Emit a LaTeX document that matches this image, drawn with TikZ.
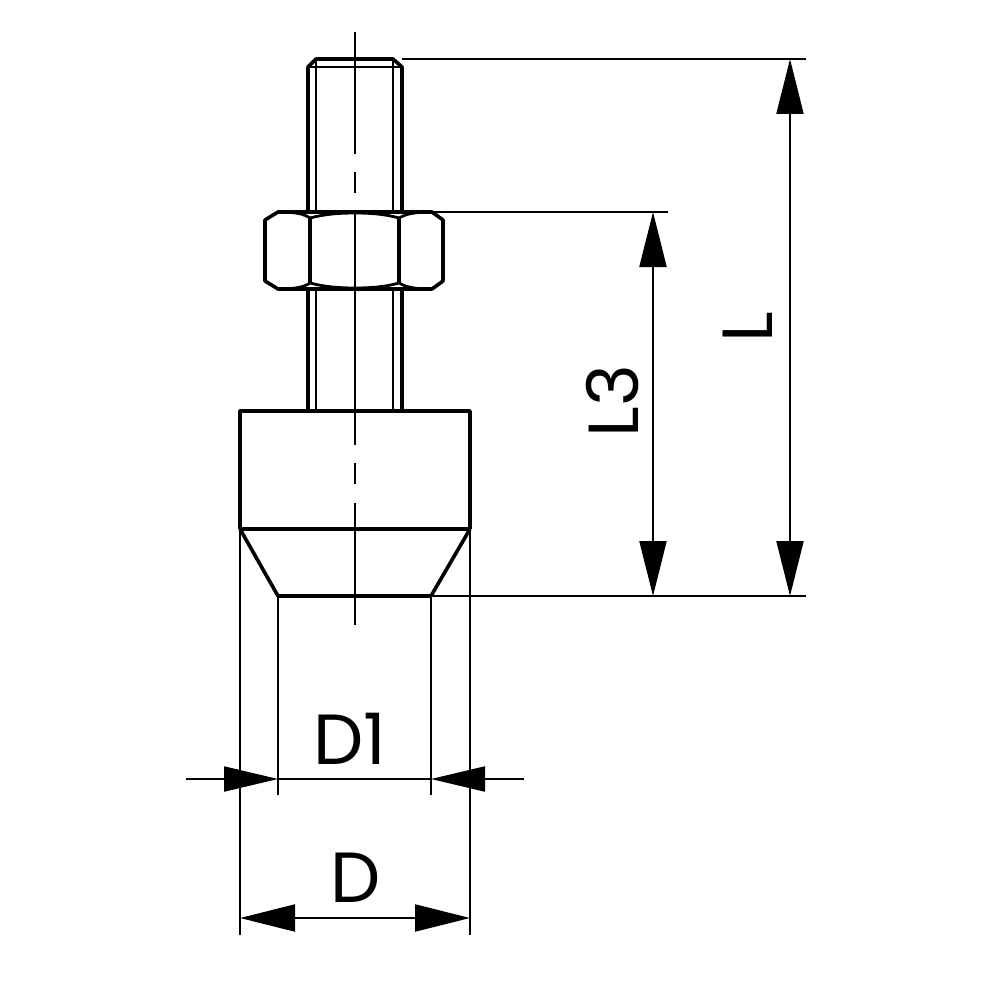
\documentclass[tikz,border=0pt]{standalone}
\usepackage{fontspec}
\setmainfont{Poppins}
\usetikzlibrary{arrows.meta}
\tikzset{
  part/.style={line width=3.6pt,line join=round,black},
  thread/.style={line width=2.8pt,black},
  thin line/.style={line width=2.1pt,black},
  centre/.style={line width=2.2pt,black},
  dimtwo/.style={thin line,{Triangle[length=55pt,width=27pt]}-{Triangle[length=55pt,width=27pt]}},
  tipin/.style={thin line,-{Triangle[length=54pt,width=25pt]}},
  label/.style={font=\fontsize{71}{71}\selectfont,inner sep=0pt,text=black}
}
\begin{document}
\begin{tikzpicture}[x=1pt,y=-1pt]
\useasboundingbox (0,0) rectangle (1000,1000);
\fill[white] (0,0) rectangle (1000,1000);
% extension lines
\draw[thin line] (402,59) -- (806,59);
\draw[thin line] (432,212) -- (668,212);
\draw[thin line] (431,596) -- (806,596);
\draw[thin line] (240,529) -- (240,935);
\draw[thin line] (470,529) -- (470,935);
\draw[thin line] (278,596) -- (278,795);
\draw[thin line] (431,596) -- (431,795);
% shaft
\draw[part] (308,212) -- (308,67) -- (316,59) -- (393,59) -- (402,67) -- (402,212);
\draw[thread] (308,67) -- (402,67);
\draw[thread] (316,59) -- (316,212);
\draw[thread] (393,59) -- (393,212);
\draw[part] (308,289) -- (308,411);
\draw[part] (402,289) -- (402,411);
\draw[thread] (316,289) -- (316,411);
\draw[thread] (393,289) -- (393,411);
% nut
\draw[part] (278,212) -- (432,212) -- (443,220) -- (443,281) -- (432,289) -- (278,289) -- (265,281) -- (265,220) -- cycle;
\draw[part] (310,218) -- (310,283);
\draw[part] (399,218) -- (399,283);
\draw[thread] (278,212) .. controls (296,212) and (304,214) .. (310,218) .. controls (325,214) and (340,213) .. (355,213) .. controls (370,213) and (385,214) .. (399,218) .. controls (406,214) and (414,212) .. (432,212);
\draw[thread] (278,289) .. controls (296,289) and (304,287) .. (310,283) .. controls (325,287) and (340,288) .. (355,288) .. controls (370,288) and (385,287) .. (399,283) .. controls (406,287) and (414,289) .. (432,289);
% body
\draw[part] (240,529) -- (240,411) -- (470,411) -- (470,529);
\draw[part] (240,529) -- (470,529);
\draw[part] (240,529) -- (278,596) -- (431,596) -- (470,529);
% centre line
\draw[centre] (355,32) -- (355,154);
\draw[centre] (355,172) -- (355,193);
\draw[centre] (355,212) -- (355,445);
\draw[centre] (355,463) -- (355,484);
\draw[centre] (355,503) -- (355,625);
% dimensions
\draw[dimtwo] (790,59) -- (790,596);
\draw[dimtwo] (653,212) -- (653,596);
\draw[dimtwo] (240,918) -- (470,918);
\draw[tipin] (186,779) -- (278,779);
\draw[tipin] (524,779) -- (431,779);
\draw[thin line] (278,779) -- (431,779);
% labels
\node[label] (d1) at (350,739) {D1};
\node[label] (d) at (356,878) {D};
\node[label,rotate=90] (l3) at (613,401) {L3};
\node[label,rotate=90] (l) at (748,327) {L};
\end{tikzpicture}
\end{document}
